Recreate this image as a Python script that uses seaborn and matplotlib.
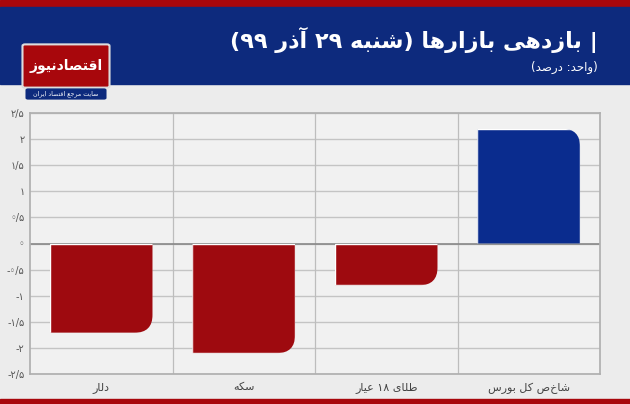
import matplotlib
matplotlib.use('Agg')
import matplotlib.pyplot as plt
import seaborn as sns
import pandas as pd
from matplotlib.path import Path
from matplotlib.transforms import IdentityTransform
from matplotlib.patches import FancyBboxPatch, Rectangle

# ---- data ----
categories = ['دلار', 'سکه', 'طلای ۱۸ عیار', 'شاخص کل بورس']
values = [-1.71, -2.1, -0.8, 2.2]
ytick_vals = [-2.5, -2, -1.5, -1, -0.5, 0, 0.5, 1, 1.5, 2, 2.5]
ytick_labels = ['-۲/۵', '-۲', '-۱/۵', '-۱', '-◦/۵', '◦', '◦/۵', '۱', '۱/۵', '۲', '۲/۵']
title = '| بازدهی بازارها (شنبه ۲۹ آذر ۹۹)'
subtitle = '(واحد: درصد)'

# ---- tiny arabic shaper (matplotlib does no joining) ----
FORMS = {
    'ا': (0xFE8D, 0xFE8E, None, None), 'آ': (0xFE81, 0xFE82, None, None),
    'ب': (0xFE8F, 0xFE90, 0xFE91, 0xFE92), 'ت': (0xFE95, 0xFE96, 0xFE97, 0xFE98),
    'ج': (0xFE9D, 0xFE9E, 0xFE9F, 0xFEA0), 'ح': (0xFEA1, 0xFEA2, 0xFEA3, 0xFEA4),
    'د': (0xFEA9, 0xFEAA, None, None), 'ذ': (0xFEAB, 0xFEAC, None, None),
    'ر': (0xFEAD, 0xFEAE, None, None), 'ز': (0xFEAF, 0xFEB0, None, None),
    'س': (0xFEB1, 0xFEB2, 0xFEB3, 0xFEB4), 'ش': (0xFEB5, 0xFEB6, 0xFEB7, 0xFEB8),
    'ص': (0xFEB9, 0xFEBA, 0xFEBB, 0xFEBC), 'ط': (0xFEC1, 0xFEC2, 0xFEC3, 0xFEC4),
    'ع': (0xFEC9, 0xFECA, 0xFECB, 0xFECC), 'ق': (0xFED5, 0xFED6, 0xFED7, 0xFED8),
    'ل': (0xFEDD, 0xFEDE, 0xFEDF, 0xFEE0), 'م': (0xFEE1, 0xFEE2, 0xFEE3, 0xFEE4),
    'ن': (0xFEE5, 0xFEE6, 0xFEE7, 0xFEE8), 'ه': (0xFEE9, 0xFEEA, 0xFEEB, 0xFEEC),
    'و': (0xFEED, 0xFEEE, None, None), 'ی': (0xFBFC, 0xFBFD, 0xFBFE, 0xFBFF),
    'ک': (0xFB8E, 0xFB8F, 0xFB90, 0xFB91),
}
MIRROR = {'(': ')', ')': '('}


def shape(s):
    out = []
    for i, c in enumerate(s):
        if c not in FORMS:
            out.append(c)
            continue
        prev = s[i - 1] if i > 0 else ''
        nxt = s[i + 1] if i + 1 < len(s) else ''
        join_prev = prev in FORMS and FORMS[prev][2] is not None
        join_next = nxt in FORMS and FORMS[c][2] is not None
        iso, fin, ini, med = FORMS[c]
        if join_prev and join_next:
            f = med
        elif join_prev:
            f = fin
        elif join_next:
            f = ini
        else:
            f = iso
        out.append(chr(f))
    # visual order: reverse, keep digit runs LTR
    rev = [MIRROR.get(c, c) for c in reversed(out)]
    res, run = [], []
    for c in rev:
        if c.isdigit():
            run.append(c)
        else:
            res.extend(reversed(run)); run = []
            res.append(c)
    res.extend(reversed(run))
    return ''.join(res)


sns.set_theme(style='white')
plt.rcParams['font.family'] = ['DejaVu Sans']

fig = plt.figure(figsize=(6.3, 4.04), dpi=100)
fig.patch.set_facecolor('#ececec')
W, H = 630, 404

# header bands
fig.patches.append(Rectangle((0, 1 - 7 / H), 1, 7 / H, transform=fig.transFigure, color='#a8070c', zorder=0))
fig.patches.append(Rectangle((0, 1 - 84 / H), 1, 77 / H, transform=fig.transFigure, color='#0d2a7d', zorder=0))
fig.patches.append(Rectangle((0, 0), 1, 5 / H, transform=fig.transFigure, color='#a8070c', zorder=0))
fig.text(598 / W, 1 - 40 / H, shape(title), ha='right', va='center', color='white',
         fontsize=16, fontweight='bold')
fig.text(598 / W, 1 - 67 / H, shape(subtitle), ha='right', va='center', color='white', fontsize=8.5)
# logo
fig.patches.append(FancyBboxPatch((25 / W, 1 - 86 / H), 82 / W, 40 / H, boxstyle='round,pad=0.004',
                                  transform=fig.transFigure, fc='#a8070c', ec='#dddddd', lw=1.5, zorder=2))
fig.text(66 / W, 1 - 66 / H, shape('اقتصادنیوز'), ha='center', va='center', color='white',
         fontsize=10, fontweight='bold', zorder=3)
fig.patches.append(FancyBboxPatch((28 / W, 1 - 98 / H), 76 / W, 8 / H, boxstyle='round,pad=0.004',
                                  transform=fig.transFigure, fc='#0d2a7d', ec='none', zorder=2))
fig.text(66 / W, 1 - 94 / H, shape('سایت مرجع اقتصاد ایران'), ha='center', va='center', color='white',
         fontsize=4.5, zorder=3)

ax = fig.add_axes([30 / W, 30 / H, 570 / W, 261 / H])
ax.set_facecolor('#f1f1f1')
df = pd.DataFrame({'cat': [shape(c) for c in categories], 'val': values})
colors = ['#9e0a0f' if v < 0 else '#0a2c8e' for v in values]
sns.barplot(data=df, x='cat', y='val', hue='cat', palette=colors, legend=False,
            width=0.72, saturation=1, ax=ax, zorder=3)
ax.set_ylim(-2.5, 2.5)
ax.set_xlim(-0.5, len(values) - 0.5)
ax.set_yticks(ytick_vals)
ax.set_yticklabels(ytick_labels, fontsize=7, color='#555555')
ax.tick_params(axis='x', labelsize=8, colors='#444444', length=0, pad=6)
ax.tick_params(axis='y', length=0, pad=4)
ax.set_xlabel('')
ax.set_ylabel('')
for y in ytick_vals:
    ax.axhline(y, color='#c4c4c4', lw=1, zorder=1)
ax.axhline(0, color='#888888', lw=1.2, zorder=2)
for x in range(1, len(values)):
    ax.axvline(x - 0.5, color='#bdbdbd', lw=0.9, zorder=1)
for s in ax.spines.values():
    s.set_color('#b0b0b0')

# round the outer right corner of each bar
r = 18
for p in ax.patches:
    (x0, y0), (x1, y1) = ax.transData.transform([(p.get_x(), p.get_y()),
                                                 (p.get_x() + p.get_width(), p.get_y() + p.get_height())])
    top, bot = max(y0, y1), min(y0, y1)
    if p.get_height() >= 0:
        verts = [(x0, bot), (x1, bot), (x1, top - r), (x1, top), (x1 - r, top), (x0, top), (x0, bot)]
    else:
        verts = [(x0, top), (x1, top), (x1, bot + r), (x1, bot), (x1 - r, bot), (x0, bot), (x0, top)]
    codes = [Path.MOVETO, Path.LINETO, Path.LINETO, Path.CURVE3, Path.CURVE3, Path.LINETO, Path.CLOSEPOLY]
    p.set_clip_path(Path(verts, codes), IdentityTransform())

fig.savefig('out.png', dpi=100, facecolor=fig.get_facecolor())
